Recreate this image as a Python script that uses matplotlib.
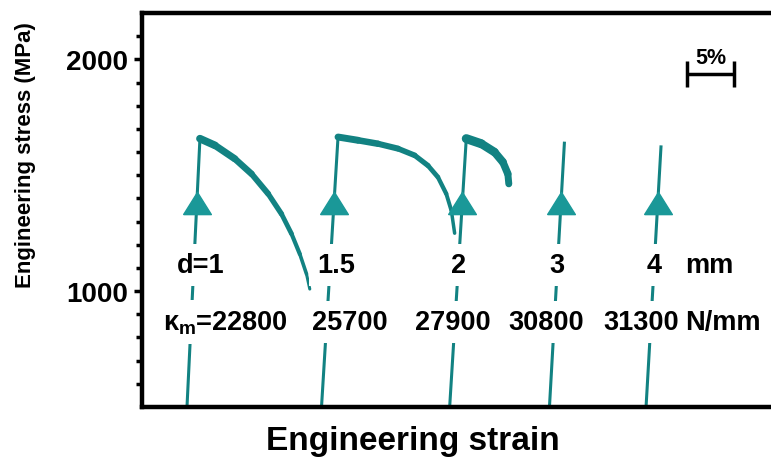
import numpy as np
import matplotlib
matplotlib.use('Agg')
import matplotlib.pyplot as plt
from matplotlib import font_manager
from matplotlib.collections import LineCollection

plt.rcParams['font.family'] = ['Liberation Sans', 'DejaVu Sans']
plt.rcParams['mathtext.fontset'] = 'custom'
plt.rcParams['mathtext.rm'] = 'Liberation Sans:bold'
plt.rcParams['mathtext.it'] = 'Liberation Sans:bold'

# specimen diameter labels and measured machine stiffness
diam = ['d=1', '1.5', '2', '3', '4']
kappa = [22800, 25700, 27900, 30800, 31300]

# strain (%) / stress (MPa) for each test, elastic branch then softening branch
strain_1 = [4.79, 6.17, 7.77, 9.89, 11.67, 13.44, 14.86, 15.93, 16.81, 17.52, 17.87]
stress_1 = [500, 1658, 1629, 1571, 1506, 1420, 1333, 1247, 1160, 1074, 1009]
strain_2 = [19.12, 20.88, 23.01, 25.14, 27.27, 29.04, 30.46, 31.52, 32.41, 32.95, 33.30]
stress_2 = [500, 1665, 1651, 1636, 1615, 1586, 1542, 1492, 1420, 1348, 1250]
strain_3 = [32.77, 34.54, 36.14, 37.55, 38.44, 38.97, 39.07]
stress_3 = [500, 1658, 1636, 1600, 1557, 1506, 1463]
strain_4 = [43.40, 45.00]
stress_4 = [500, 1645]
strain_5 = [53.69, 55.29]
stress_5 = [500, 1629]

curves = [(strain_1, stress_1), (strain_2, stress_2), (strain_3, stress_3),
          (strain_4, stress_4), (strain_5, stress_5)]
band = [(5.5, 2.2), (5.0, 2.5), (6.5, 5.0), None, None]

line_c = '#128282'
arrow_c = '#1a9898'

fig = plt.figure(figsize=(7.71, 4.64), dpi=100)
ax = fig.add_axes([0.1842, 0.1207, 0.8158, 0.849])

tri = [(-1.0, -0.8), (1.0, -0.8), (0.0, 0.8), (-1.0, -0.8)]
arrow_stress = 1380

for (x, y), w in zip(curves, band):
    x = np.asarray(x)
    y = np.asarray(y)
    # elastic loading line
    ax.plot(x[:2], y[:2], color=line_c, lw=2.2, zorder=2, solid_capstyle='butt')
    # arrow marker on the loading line
    xa = np.interp(arrow_stress, y[:2], x[:2])
    ax.plot([xa], [arrow_stress], marker=tri, ms=20, color=arrow_c,
            mec=arrow_c, ls='none', zorder=3)
    if w is not None:
        pts = np.column_stack([x[1:], y[1:]])
        segs = np.stack([pts[:-1], pts[1:]], axis=1)
        lws = np.linspace(w[0], w[1], len(segs))
        lc = LineCollection(segs, colors=line_c, linewidths=lws,
                            capstyle='round', joinstyle='round', zorder=2)
        ax.add_collection(lc)

# labels over the curves, white boxes break the lines
lbl_x1 = [6.3, 20.7, 33.7, 44.15, 54.6]
lbl_x2 = [8.9, 22.1, 33.1, 43.1, 53.2]
box = dict(boxstyle='square,pad=0.3', fc='white', ec='none')
fs = 19.5
for i in range(5):
    ax.text(lbl_x1[i], 1082, diam[i], ha='center', va='baseline', fontsize=fs,
            fontweight='bold', bbox=box, zorder=4)
    s = str(kappa[i])
    if i == 0:
        s = r'$\kappa_\mathregular{m}$=' + s
    ax.text(lbl_x2[i], 835, s, ha='center', va='baseline', fontsize=fs,
            fontweight='bold', bbox=box, zorder=4)
ax.text(57.8, 1082, 'mm', ha='left', va='baseline', fontsize=fs,
        fontweight='bold', zorder=4)
ax.text(57.8, 835, 'N/mm', ha='left', va='baseline', fontsize=fs,
        fontweight='bold', zorder=4)

# 5% strain scale bar
ax.errorbar(60.6, 1935, xerr=2.5, fmt='none', ecolor='black', elinewidth=2.5,
            capsize=9.5, capthick=2.5)
ax.text(60.6, 1962, '5%', ha='center', va='bottom', fontsize=15.5, fontweight='bold')

ax.set_xlim(0, 67)
ax.set_ylim(500, 2200)
ax.set_yticks([1000, 2000])
ax.set_yticks(np.arange(600, 2200, 100), minor=True)
ax.set_xticks([])
ax.tick_params(axis='y', which='major', direction='out', length=6, width=2.5,
               labelsize=20, pad=4)
ax.tick_params(axis='y', which='minor', direction='out', length=4, width=2.5)
for t in ax.get_yticklabels():
    t.set_fontweight('bold')
for side in ['left', 'top', 'bottom']:
    ax.spines[side].set_linewidth(3.2)
ax.spines['right'].set_visible(False)

ax.set_xlabel('Engineering strain', fontsize=24, fontweight='bold')
ax.xaxis.set_label_coords(0.431, -0.046)

# narrow face for the stress label if it is installed
names = {f.name for f in font_manager.fontManager.ttflist}
if 'Liberation Sans Narrow' in names:
    ax.set_ylabel('Engineering stress (MPa)', fontsize=19, fontweight='bold',
                  family=['Liberation Sans Narrow', 'Liberation Sans'])
else:
    ax.set_ylabel('Engineering stress (MPa)', fontsize=16, fontweight='bold')
ax.yaxis.set_label_coords(-0.168, 0.642)

fig.savefig('out.png', dpi=100)
